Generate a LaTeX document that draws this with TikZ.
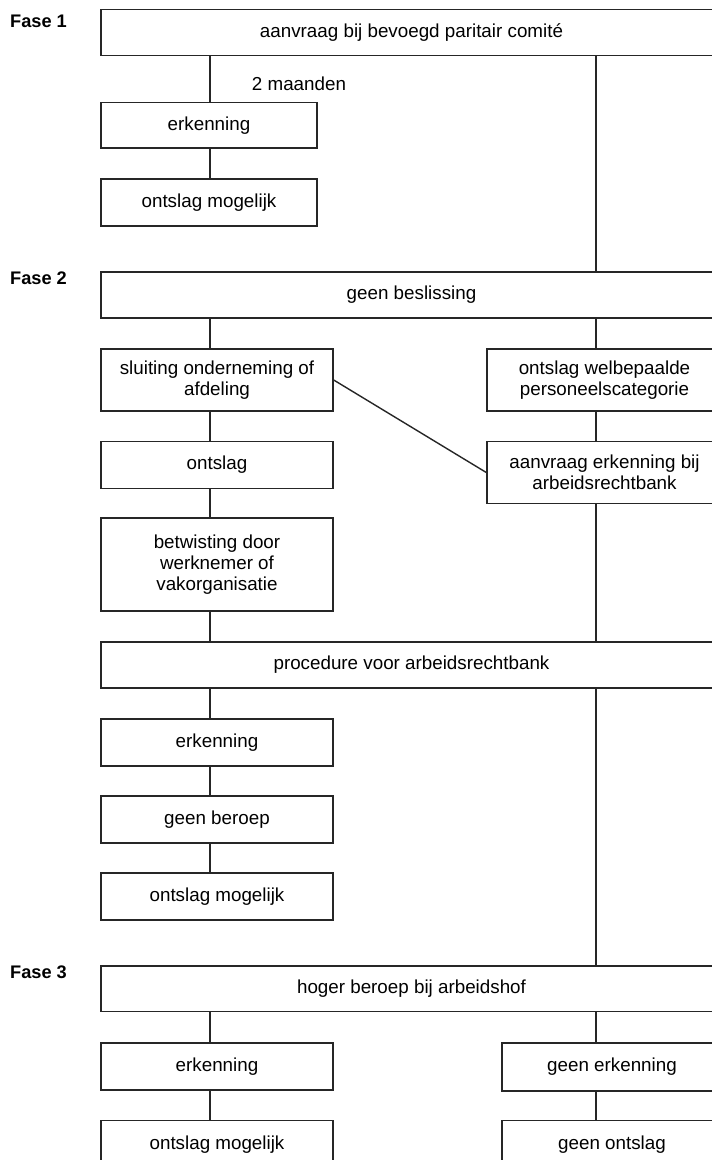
\documentclass[tikz,border=0pt]{standalone}
\usepackage{fontspec}
\setmainfont{Liberation Sans}
\begin{document}
\begin{tikzpicture}[x=1pt,y=-1pt,
  box/.style={draw=black!85, line width=1.4pt, rectangle, inner sep=0pt, align=center,
    font=\fontsize{18.8}{21}\selectfont},
  wide/.style={box, minimum width=621pt},
  lbox/.style={box, minimum width=232pt},
  sbox/.style={box, minimum width=216pt},
  rbox/.style={box, minimum width=235pt},
  conn/.style={draw=black!85, line width=1.4pt},
  fase/.style={anchor=west, inner sep=0pt, font=\bfseries\fontsize{18.2}{21}\selectfont},
  lbl/.style={inner sep=0pt, font=\fontsize{18.8}{21}\selectfont}]
\useasboundingbox (0,0) rectangle (712,1160);
\coordinate (L) at (210,0);
\coordinate (R) at (596,0);

% Fase labels
\node[fase] (f1) at (10,21) {Fase 1};
\node[fase] (f2) at (10,278) {Fase 2};
\node[fase] (f3) at (10,972) {Fase 3};

% Fase 1
\node[wide, minimum height=46.4pt] (top) at (411.5,32.5) {aanvraag bij bevoegd paritair comité};
\node[sbox, minimum height=45.3pt] (erk1) at (209,125.3) {erkenning};
\node[sbox, minimum height=47pt] (om1) at (209,202.5) {ontslag mogelijk};
\node[lbl] (twee) at (299,84) {2 maanden};

% Fase 2
\node[wide, minimum height=46pt] (gb) at (411.5,295) {geen beslissing};
\node[lbox, minimum height=61.7pt] (sl) at (217,380) {sluiting onderneming of\\afdeling};
\node[rbox, minimum height=61.7pt] (ow) at (604.5,380) {ontslag welbepaalde\\personeelscategorie};
\node[lbox, minimum height=46.6pt] (ont) at (217,465) {ontslag};
\node[rbox, minimum height=61.6pt] (ae) at (604.5,472.5) {aanvraag erkenning bij\\arbeidsrechtbank};
\node[lbox, minimum height=93pt] (bet) at (217,564.5) {betwisting door\\werknemer of\\vakorganisatie};
\node[wide, minimum height=46.3pt] (proc) at (411.5,665) {procedure voor arbeidsrechtbank};
\node[lbox, minimum height=47pt] (erk2) at (217,742.5) {erkenning};
\node[lbox, minimum height=47pt] (geb) at (217,819.5) {geen beroep};
\node[lbox, minimum height=47pt] (om2) at (217,896.5) {ontslag mogelijk};

% Fase 3
\node[wide, minimum height=45.7pt] (hb) at (411.5,988.8) {hoger beroep bij arbeidshof};
\node[lbox, minimum height=47pt] (erk3) at (217,1066.5) {erkenning};
\node[box, minimum width=220pt, minimum height=48pt] (ge) at (612,1067) {geen erkenning};
\node[lbox, minimum height=47pt] (om3) at (217,1144.2) {ontslag mogelijk};
\node[box, minimum width=220pt, minimum height=47pt] (go) at (612,1144.2) {geen ontslag};

% connectors
\draw[conn] (top.south -| L) -- (erk1.north -| L);
\draw[conn] (erk1.south -| L) -- (om1.north -| L);
\draw[conn] (top.south -| R) -- (gb.north -| R);
\draw[conn] (gb.south -| L) -- (sl.north -| L);
\draw[conn] (gb.south -| R) -- (ow.north -| R);
\draw[conn] (sl.south -| L) -- (ont.north -| L);
\draw[conn] (ont.south -| L) -- (bet.north -| L);
\draw[conn] (bet.south -| L) -- (proc.north -| L);
\draw[conn] (ow.south -| R) -- (ae.north -| R);
\draw[conn] (ae.south -| R) -- (proc.north -| R);
\draw[conn] (sl.east) -- (ae.west);
\draw[conn] (proc.south -| L) -- (erk2.north -| L);
\draw[conn] (erk2.south -| L) -- (geb.north -| L);
\draw[conn] (geb.south -| L) -- (om2.north -| L);
\draw[conn] (proc.south -| R) -- (hb.north -| R);
\draw[conn] (hb.south -| L) -- (erk3.north -| L);
\draw[conn] (hb.south -| R) -- (ge.north -| R);
\draw[conn] (erk3.south -| L) -- (om3.north -| L);
\draw[conn] (ge.south -| R) -- (go.north -| R);
\end{tikzpicture}
\end{document}
